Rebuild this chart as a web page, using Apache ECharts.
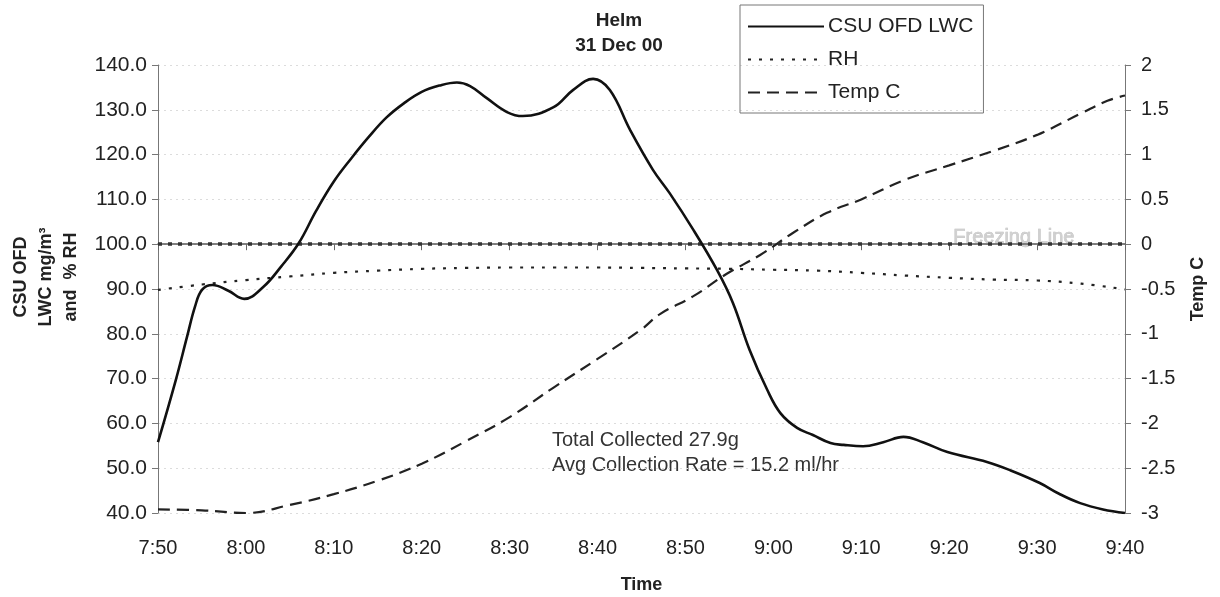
<!DOCTYPE html>
<html>
<head>
<meta charset="utf-8">
<script src="https://cdn.jsdelivr.net/npm/echarts@6/dist/echarts.min.js"></script>
<style>html,body{margin:0;padding:0;background:#fff;}#c{width:1220px;height:597px;}</style>
</head>
<body>
<div id="c"></div>
<script>
// minutes since 7:50
var tickLabels = ['7:50','8:00','8:10','8:20','8:30','8:40','8:50','9:00','9:10','9:20','9:30','9:40'];
var lwcTime = [0,2,3.3,4.2,5,6.2,8,9.8,12,14,16,18,20,22,24,26,28,30,32,34,35.5,37.4,39.7,41.5,45,47.2,49.5,51.4,53.7,56.3,58.2,60.9,63.6,65.4,67.3,69.3,70.8,72.7,74.5,76.5,78,80.2,82.5,84.8,87,89.8,94.3,97,100.3,102.5,104.9,107.5,110];
var lwcVals = [55.8,69.5,79.3,86,89.8,90.9,89.6,87.8,90.5,95,100.2,107.5,114,119.2,124,128.3,131.5,134,135.4,136.1,135.3,132.6,129.5,128.6,130.6,134.4,136.9,134.4,125.5,116.6,111.4,103.2,94.2,86.9,76.4,67.5,62.3,59,57.4,55.6,55.2,54.9,55.8,57,55.8,53.6,51.4,49.5,46.7,44.3,42.2,40.8,40];
var rhTime = [0,5,10,15,20,25,30,35,40,45,50,55,60,65,70,75,80,85,90,95,100,105,110];
var rhVals = [89.8,91,92,92.8,93.6,94.1,94.5,94.7,94.8,94.8,94.8,94.7,94.6,94.5,94.3,94.1,93.6,93,92.5,92.1,91.9,91.2,89.9];
var tempTime = [0,5,10,15,20,25,30,35,40,45,50,55,57.1,60.9,64.7,68.5,72.3,76.1,80,85,90,95,100,105,108,110];
var tempVals = [-2.96,-2.97,-3.0,-2.91,-2.79,-2.64,-2.45,-2.2,-1.93,-1.6,-1.28,-0.95,-0.78,-0.58,-0.33,-0.12,0.13,0.35,0.5,0.72,0.88,1.04,1.22,1.46,1.6,1.66];
var freezingLevel = 100;

function pairs(xs, ys){ return xs.map(function(x,i){ return [x, ys[i]]; }); }

var FONT = 'Liberation Sans, Arial, sans-serif';
var chart = echarts.init(document.getElementById('c'));
chart.setOption({
  backgroundColor: '#fff',
  animation: false,
  textStyle: { fontFamily: FONT },
  title: {
    text: 'Helm\n31 Dec 00',
    left: 614, top: 3, textAlign: 'center',
    textStyle: { fontSize: 19, fontWeight: 'bold', color: '#222', lineHeight: 25, fontFamily: FONT }
  },
  legend: {
    orient: 'vertical', left: 740, top: 5,
    padding: [11, 10, 10, 7],
    itemWidth: 76, itemHeight: 14, itemGap: 12,
    borderColor: '#777', borderWidth: 1,
    itemStyle: { opacity: 0 },
    textStyle: { fontSize: 21, color: '#222', fontFamily: FONT, padding: [0, 0, 0, -1] },
    data: ['CSU OFD LWC', 'RH', 'Temp C']
  },
  grid: { left: 158, right: 95, top: 65, bottom: 84, outerBoundsMode: 'none', containLabel: false },
  xAxis: {
    type: 'value', min: 0, max: 110, interval: 10,
    name: 'Time', nameLocation: 'middle', nameGap: 63,
    nameTextStyle: { fontSize: 18, fontWeight: 'bold', color: '#222' },
    axisLine: { lineStyle: { color: '#555', width: 1.5 } },
    axisTick: { length: 6, lineStyle: { color: '#666' } },
    axisLabel: { fontSize: 20, color: '#222', margin: 25,
      formatter: function(v){ return tickLabels[Math.round(v/10)]; } },
    splitLine: { show: false }
  },
  yAxis: [{
    type: 'value', min: 40, max: 140, interval: 10,
    name: 'CSU OFD\nLWC mg/m³\nand  % RH', nameLocation: 'middle', nameRotate: 90, nameGap: 74,
    nameTextStyle: { fontSize: 18, fontWeight: 'bold', color: '#222', lineHeight: 25, padding: [0, 0, 0, 24] },
    axisLine: { show: true, lineStyle: { color: '#777', width: 1 } },
    axisTick: { show: true, length: 6, lineStyle: { color: '#777' } },
    axisLabel: { fontSize: 21, color: '#222', margin: 11,
      formatter: function(v){ return v.toFixed(1); } },
    splitLine: { show: true, lineStyle: { color: '#dcdcdc', type: [2, 4], width: 1 } }
  }, {
    type: 'value', min: -3, max: 2, interval: 0.5,
    name: 'Temp C', nameLocation: 'middle', nameRotate: 90, nameGap: 64,
    nameTextStyle: { fontSize: 18, fontWeight: 'bold', color: '#222' },
    axisLine: { show: true, lineStyle: { color: '#777', width: 1 } },
    axisTick: { show: true, length: 6, lineStyle: { color: '#777' } },
    axisLabel: { fontSize: 20, color: '#222', margin: 16,
      formatter: function(v){ return String(Math.round(v*10)/10); } },
    splitLine: { show: false }
  }],
  series: [{
    name: 'CSU OFD LWC', type: 'line', yAxisIndex: 0,
    data: pairs(lwcTime, lwcVals), smooth: 0.4, symbol: 'none',
    lineStyle: { color: '#111', width: 2.6 }, itemStyle: { color: '#111' },
    markLine: {
      silent: true, symbol: 'none',
      lineStyle: { color: '#333', type: [4, 6], width: 3.5 },
      label: { show: false },
      data: [{ yAxis: freezingLevel }]
    },
    z: 5
  }, {
    name: 'RH', type: 'line', yAxisIndex: 0,
    data: pairs(rhTime, rhVals), smooth: 0.4, symbol: 'none',
    lineStyle: { color: '#222', width: 2.2, type: [3, 8] }, itemStyle: { color: '#222' }
  }, {
    name: 'Temp C', type: 'line', yAxisIndex: 1,
    data: pairs(tempTime, tempVals), smooth: 0.4, symbol: 'none',
    lineStyle: { color: '#222', width: 2.2, type: [12, 7] }, itemStyle: { color: '#222' }
  }],
  graphic: [{
    type: 'text', left: 953, top: 227,
    style: { text: 'Freezing Line', fontSize: 20, fill: '#d0d0d0', stroke: '#b8b8b8', lineWidth: 0.6, fontFamily: FONT }
  }, {
    type: 'text', left: 552, top: 428,
    style: { text: 'Total Collected 27.9g\nAvg Collection Rate = 15.2 ml/hr', fontSize: 20, lineHeight: 25, fill: '#333', fontFamily: FONT }
  }]
});
</script>
</body>
</html>
